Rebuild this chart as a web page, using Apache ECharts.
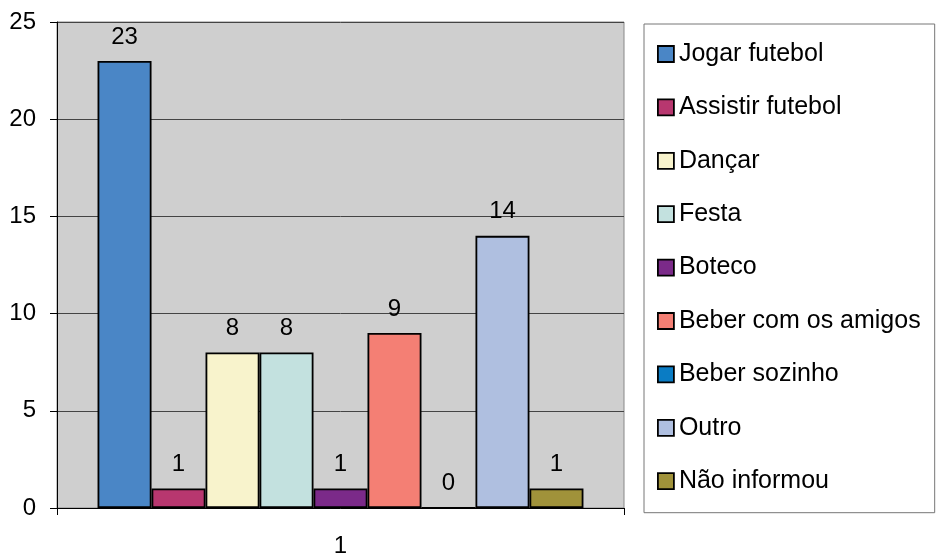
<!DOCTYPE html>
<html>
<head>
<meta charset="utf-8">
<script src="https://cdn.jsdelivr.net/npm/echarts@6/dist/echarts.min.js"></script>
<style>
  html, body { margin: 0; padding: 0; background: #fff; }
  #chart { width: 936px; height: 558px; }
</style>
</head>
<body>
<div id="chart"></div>
<script>
const categories = ['1']
const seriesNames = [
  'Jogar futebol',
  'Assistir futebol',
  'Dançar',
  'Festa',
  'Boteco',
  'Beber com os amigos',
  'Beber sozinho',
  'Outro',
  'Não informou'
]
const seriesValues = [23, 1, 8, 8, 1, 9, 0, 14, 1]
const seriesColors = [
  '#4A86C6', '#B8376F', '#F8F3CC', '#C3E1DF', '#7B2A89',
  '#F47F74', '#0A7CC4', '#AFBFE0', '#A0923A'
]
const yTicks = { min: 0, max: 25, interval: 5 }

const font = 'Liberation Sans, Arial, sans-serif'
const chart = echarts.init(document.getElementById('chart'), null, { renderer: 'canvas' })

const series = seriesNames.map((name, i) => ({
  name: name,
  type: 'bar',
  data: [seriesValues[i]],
  barGap: '0%',
  barCategoryGap: '14.3%',
  itemStyle: {
    color: seriesColors[i],
    borderColor: '#000',
    borderWidth: 1.8
  },
  label: {
    show: true,
    position: 'top',
    distance: 12,
    color: '#000',
    fontSize: 24,
    fontFamily: font
  },
  emphasis: { disabled: true }
}))

chart.setOption({
  animation: false,
  backgroundColor: '#fff',
  grid: {
    left: 57,
    right: 312,
    top: 22,
    bottom: 47,
    show: true,
    backgroundColor: '#CFCFCF',
    borderColor: '#888',
    borderWidth: 1
  },
  legend: {
    orient: 'vertical',
    left: 644,
    top: 24,
    padding: [17.5, 14, 19, 13],
    itemGap: 28.4,
    itemWidth: 16,
    itemHeight: 16,
    icon: 'rect',
    itemStyle: { borderColor: '#000', borderWidth: 1.8 },
    borderColor: '#777',
    borderWidth: 1,
    textStyle: { fontSize: 25, color: '#000', fontFamily: font, padding: [0, 0, 0, 0] },
    data: seriesNames,
    selectedMode: false
  },
  xAxis: {
    type: 'category',
    data: categories,
    axisLine: { show: true, lineStyle: { color: '#000', width: 1 } },
    axisTick: { show: true, length: 7, lineStyle: { color: '#000' } },
    axisLabel: { color: '#000', fontSize: 24, fontFamily: font, margin: 26 },
    splitLine: { show: false }
  },
  yAxis: {
    type: 'value',
    min: yTicks.min,
    max: yTicks.max,
    interval: yTicks.interval,
    axisLine: { show: true, lineStyle: { color: '#000', width: 1 } },
    axisTick: { show: true, length: 7, lineStyle: { color: '#000' } },
    axisLabel: { color: '#000', fontSize: 24, fontFamily: font, margin: 21 },
    splitLine: { show: true, lineStyle: { color: '#444', width: 1 } }
  },
  series: series
})
</script>
</body>
</html>
